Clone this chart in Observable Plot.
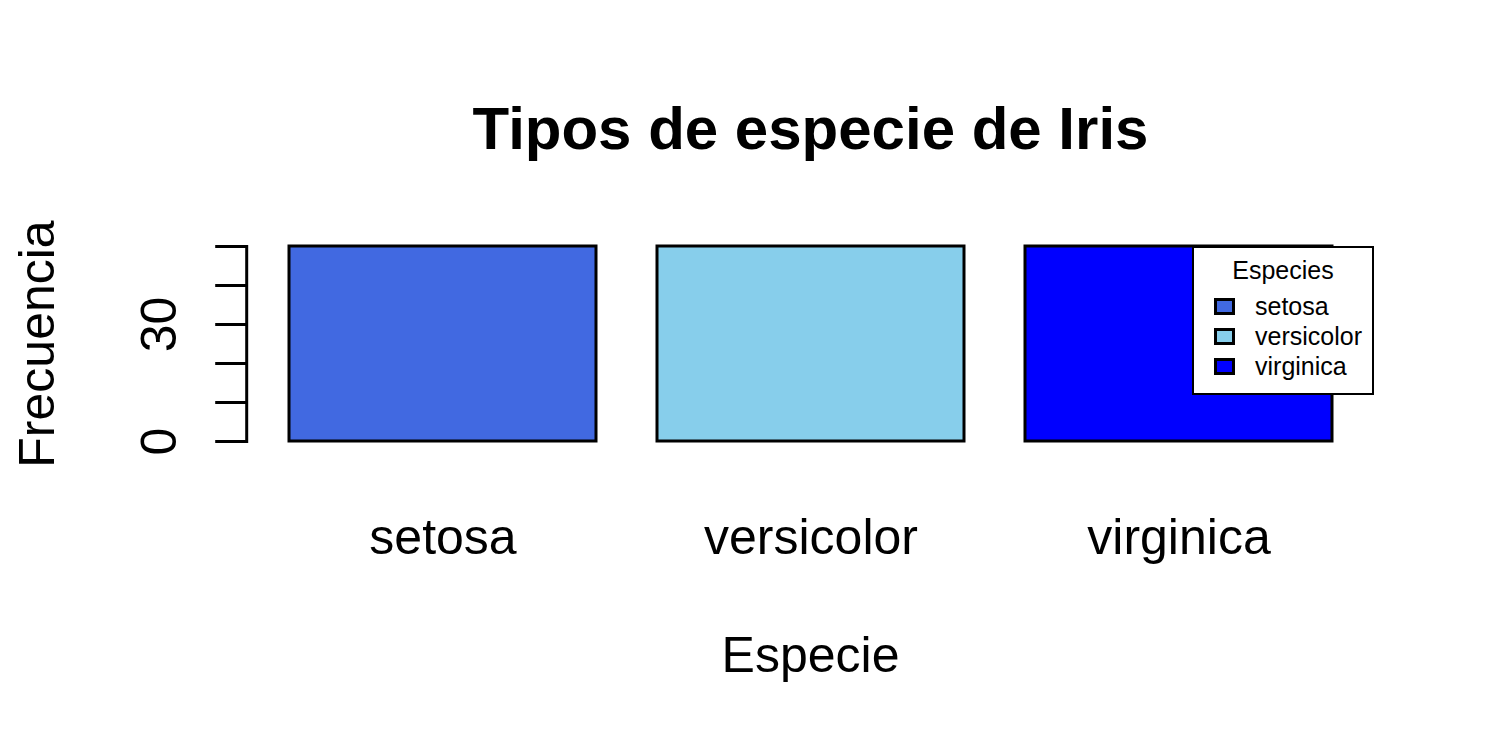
<!DOCTYPE html>
<html><head><meta charset="utf-8">
<script src="https://cdn.jsdelivr.net/npm/d3@7"></script>
<script src="https://cdn.jsdelivr.net/npm/@observablehq/plot@0.6"></script>
<style>
body{margin:0;background:#fff;}
#wrap{position:relative;width:1500px;height:750px;font-family:"Liberation Sans",Arial,sans-serif;}
#legend{position:absolute;left:1192px;top:246px;width:182px;height:149px;border:2px solid #000;background:#fff;box-sizing:border-box;}
#legend .lt{position:absolute;left:0;right:0;top:8px;text-align:center;font-size:25px;line-height:28px;}
#legend .row{position:absolute;left:20px;height:30px;display:flex;align-items:center;font-size:25px;}
#legend .sw{display:inline-block;width:15px;height:11px;border:3px solid #000;margin-right:20px;}
</style></head>
<body><div id="wrap"></div>
<script>
const species = ["setosa", "versicolor", "virginica"];
const counts = [50, 50, 50];
const colors = ["#4169E1", "#87CEEB", "#0000FF"];
const yTicks = [0, 10, 20, 30, 40, 50];
const yLabels = [0, 30];
const titleText = "Tipos de especie de Iris";
const xTitle = "Especie";
const yTitle = "Frecuencia";
const legendTitle = "Especies";

const data = species.map((s, i) => ({species: s, count: counts[i]}));
const font = "'Liberation Sans', Arial, sans-serif";

const chart = Plot.plot({
  width: 1500, height: 750,
  marginLeft: 246.2, marginRight: 126.2, marginTop: 238.2, marginBottom: 301.2,
  style: {fontFamily: font, background: "white", color: "black"},
  x: {domain: species, paddingInner: 1/6, paddingOuter: 0.11333},
  y: {domain: [-2, 52]},
  color: {domain: species, range: colors},
  marks: [
    Plot.barY(data, {x: "species", y: "count", fill: "species", stroke: "black", strokeWidth: 3}),
    Plot.axisY({ticks: yTicks, tickSize: 31, tickFormat: () => "", strokeWidth: 3, label: null}),
    Plot.frame({anchor: "left", insetTop: 7.8, insetBottom: 7.8, strokeWidth: 3}),
    Plot.text(yLabels, {y: d => d, text: d => String(d), frameAnchor: "left", textAnchor: "middle", lineAnchor: "middle", rotate: -90, dx: -87, fontSize: 50}),
    Plot.axisX({tickSize: 0, tickPadding: 68.7, fontSize: 50, label: null}),
    Plot.text([titleText], {text: d => d, frameAnchor: "top", textAnchor: "middle", lineAnchor: "middle", dy: -109, fontSize: 60, fontWeight: "bold"}),
    Plot.text([xTitle], {text: d => d, frameAnchor: "bottom", textAnchor: "middle", lineAnchor: "middle", dy: 207, fontSize: 50}),
    Plot.text([yTitle], {text: d => d, frameAnchor: "left", textAnchor: "middle", lineAnchor: "middle", dx: -209, rotate: -90, fontSize: 50})
  ]
});
const wrap = document.getElementById("wrap");
wrap.appendChild(chart);

const leg = document.createElement("div");
leg.id = "legend";
const lt = document.createElement("div");
lt.className = "lt"; lt.textContent = legendTitle;
leg.appendChild(lt);
species.forEach((s, i) => {
  const row = document.createElement("div");
  row.className = "row";
  row.style.top = (43 + i * 30) + "px";
  const sw = document.createElement("span");
  sw.className = "sw"; sw.style.background = colors[i];
  const t = document.createElement("span");
  t.textContent = s;
  row.appendChild(sw); row.appendChild(t);
  leg.appendChild(row);
});
wrap.appendChild(leg);
</script>
</body></html>
